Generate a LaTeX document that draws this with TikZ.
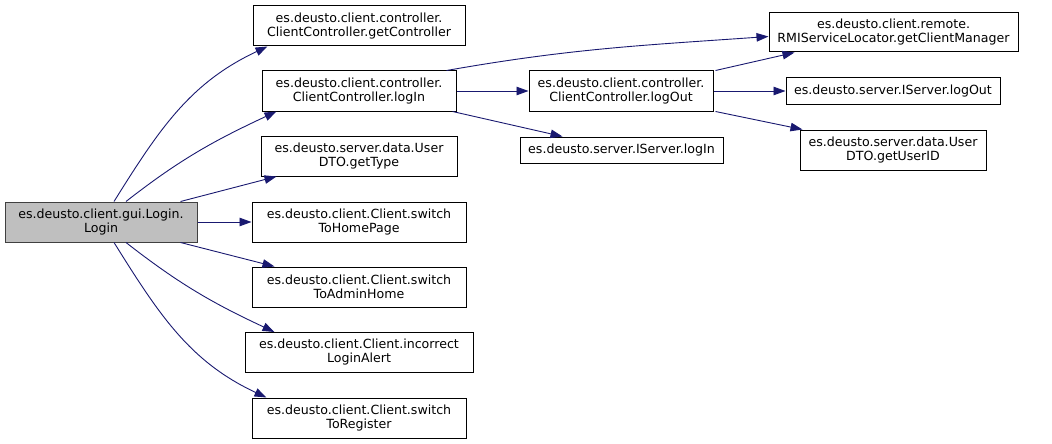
\documentclass[tikz,border=0pt]{standalone}
\usepackage{fontspec}
\setmainfont{DejaVu Sans}
\usetikzlibrary{arrows.meta,calc}
\definecolor{edgeblue}{HTML}{191970}
\definecolor{curfill}{HTML}{BFBFBF}
\definecolor{curdraw}{HTML}{404040}
\begin{document}
\begin{tikzpicture}[x=1pt,y=-1pt,
  fn/.style={draw=black,fill=white,line width=1pt,inner sep=0pt,align=center,
    font=\fontsize{12.6}{14}\selectfont,minimum height=40pt},
  cur/.style={fn,fill=curfill,draw=curdraw},
  call/.style={draw=edgeblue,line width=0.9pt,-{Triangle[length=12pt,width=8.5pt]}}]
\useasboundingbox (0,0) rectangle (1052,444);
\node[cur,minimum width=192pt] (login) at (101,222) {es.deusto.client.gui.Login.\\Login};
\node[fn,minimum width=212pt] (gc) at (359,26) {es.deusto.client.controller.\\ClientController.getController};
\node[fn,minimum width=194pt] (cli) at (359,91) {es.deusto.client.controller.\\ClientController.logIn};
\node[fn,minimum width=196pt] (gt) at (359,156) {es.deusto.server.data.User\\DTO.getType};
\node[fn,minimum width=214pt] (home) at (359,222) {es.deusto.client.Client.switch\\ToHomePage};
\node[fn,minimum width=214pt] (admin) at (359,287) {es.deusto.client.Client.switch\\ToAdminHome};
\node[fn,minimum width=228pt] (alert) at (359,352.5) {es.deusto.client.Client.incorrect\\LoginAlert};
\node[fn,minimum width=214pt] (reg) at (359,418) {es.deusto.client.Client.switch\\ToRegister};
\node[fn,minimum width=249pt,minimum height=39pt] (gcm) at (893.5,32.5) {es.deusto.client.remote.\\RMIServiceLocator.getClientManager};
\node[fn,minimum width=184pt] (clo) at (621,91) {es.deusto.client.controller.\\ClientController.logOut};
\node[fn,minimum width=214pt,minimum height=26pt] (slo) at (893,91) {es.deusto.server.IServer.logOut};
\node[fn,minimum width=203pt,minimum height=26pt] (sli) at (621.5,150) {es.deusto.server.IServer.logIn};
\node[fn,minimum width=186pt] (uid) at (893,150) {es.deusto.server.data.User\\DTO.getUserID};
% edges from Login
\draw[call] ([xshift=13pt]login.north) to[out=58,in=-155] ([xshift=15pt]gc.south west);
\draw[call] ([xshift=25pt]login.north) to[out=38,in=-155] ([xshift=15pt]cli.south west);
\draw[call] ([xshift=-17pt]login.north east) -- ([xshift=16pt]gt.south west);
\draw[call] (login.east) -- (home.west);
\draw[call] ([xshift=-17pt]login.south east) -- ([xshift=23pt]admin.north west);
\draw[call] ([xshift=25pt]login.south) to[out=-38,in=155] ([xshift=30pt]alert.north west);
\draw[call] ([xshift=13pt]login.south) to[out=-58,in=155] ([xshift=15pt]reg.north west);
% edges from ClientController.logIn
\draw[call] ([xshift=-10pt]cli.north east) to[out=10,in=-176] ([yshift=-4pt]gcm.west);
\draw[call] (cli.east) -- (clo.west);
\draw[call] ([xshift=-4pt]cli.south east) -- ([xshift=43pt]sli.north west);
% edges from ClientController.logOut
\draw[call] ([xshift=2pt]clo.north east) -- ([xshift=26pt]gcm.south west);
\draw[call] (clo.east) -- (slo.west);
\draw[call] ([xshift=2pt]clo.south east) -- ([xshift=3pt]uid.north west);
\end{tikzpicture}
\end{document}
